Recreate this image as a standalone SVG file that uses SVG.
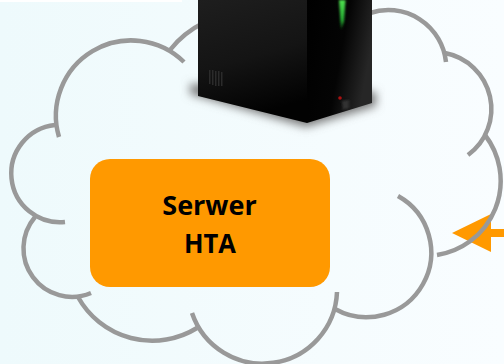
<svg xmlns="http://www.w3.org/2000/svg" width="504" height="364" viewBox="0 0 504 364">
<defs>
<linearGradient id="bg" x1="0" y1="0" x2="1" y2="0"><stop offset="0" stop-color="#eefafc"/><stop offset="1" stop-color="#f9fdff"/></linearGradient>
<linearGradient id="left" x1="0" y1="0" x2="0.25" y2="1"><stop offset="0" stop-color="#1e1e1e"/><stop offset="0.55" stop-color="#141414"/><stop offset="1" stop-color="#020202"/></linearGradient>
<linearGradient id="right" x1="0" y1="0" x2="1" y2="0.35"><stop offset="0" stop-color="#000"/><stop offset="0.6" stop-color="#040404"/><stop offset="1" stop-color="#262626"/></linearGradient>
<linearGradient id="green" x1="0" y1="0" x2="0" y2="1"><stop offset="0" stop-color="#4fe04f"/><stop offset="0.65" stop-color="#25a832"/><stop offset="1" stop-color="#0a300e"/></linearGradient>
<filter id="blur" x="-20%" y="-40%" width="140%" height="180%"><feGaussianBlur stdDeviation="5"/></filter>
<filter id="soft" x="-50%" y="-20%" width="200%" height="140%"><feGaussianBlur stdDeviation="1"/></filter>
</defs>
<style>
.arc{fill:none;stroke:#999;stroke-width:4.5}
.label{font-family:"Open Sans","Liberation Sans",sans-serif;font-weight:700;font-size:27px;fill:#000;text-anchor:middle}
</style>
<rect width="504" height="364" fill="url(#bg)"/>
<rect width="182" height="2" fill="#fff"/>
<g id="connectors">
<path d="M452 233L491 214V229H504V237H491V252Z" fill="#f90"/>
</g>
<g id="cloud">
<path class="arc" d="M59 137A75.300 75.300 0 0 1 184 62"/>
<path class="arc" d="M55 125A48 48 0 0 0 65 222"/>
<path class="arc" d="M35 217A48.500 48.500 0 0 0 91 293"/>
<path class="arc" d="M78 297A85 85 0 0 0 197 328"/>
<path class="arc" d="M192 313A74.500 74.500 0 0 0 337 292"/>
<path class="arc" d="M335 309A64.550 64.550 0 1 0 398 196"/>
<path class="arc" d="M437 255A75 75 0 0 0 485 135"/>
<path class="arc" d="M468 155A57 57 0 0 0 445 53"/>
<path class="arc" d="M446 62A58 58 0 0 0 370 13"/>
<path class="arc" d="M170 50Q183 33 205 22"/>
</g>
<g id="server">
<path d="M190 94L306 127L376 106L376 92L190 84Z" fill="#777" filter="url(#blur)"/>
<path d="M198 0V96L307 123V0Z" fill="url(#left)"/>
<path d="M307 0V123L372 103V0Z" fill="url(#right)"/>
<path d="M339 0H345.500L344 22L341 30Z" fill="url(#green)" filter="url(#soft)"/>
<path d="M209 70h1.500v14h-1.500zM212 70h1.500v15h-1.500zM215 71h1.500v15h-1.500zM218 71h1.500v15h-1.500zM221 72h1.500v14h-1.500z" fill="#2b2b2b"/>
<circle cx="340" cy="98" r="1.800" fill="#a11"/>
<path d="M342 101L349 100V108L343 110Z" fill="#333" filter="url(#soft)"/>
</g>
<g id="serwer-hta">
<rect x="90" y="159" width="240" height="128" rx="20" fill="#f90"/>
<text class="label" x="209.500" y="215">Serwer</text>
<text class="label" x="210" y="253" textLength="52" lengthAdjust="spacingAndGlyphs">HTA</text>
</g>
</svg>
